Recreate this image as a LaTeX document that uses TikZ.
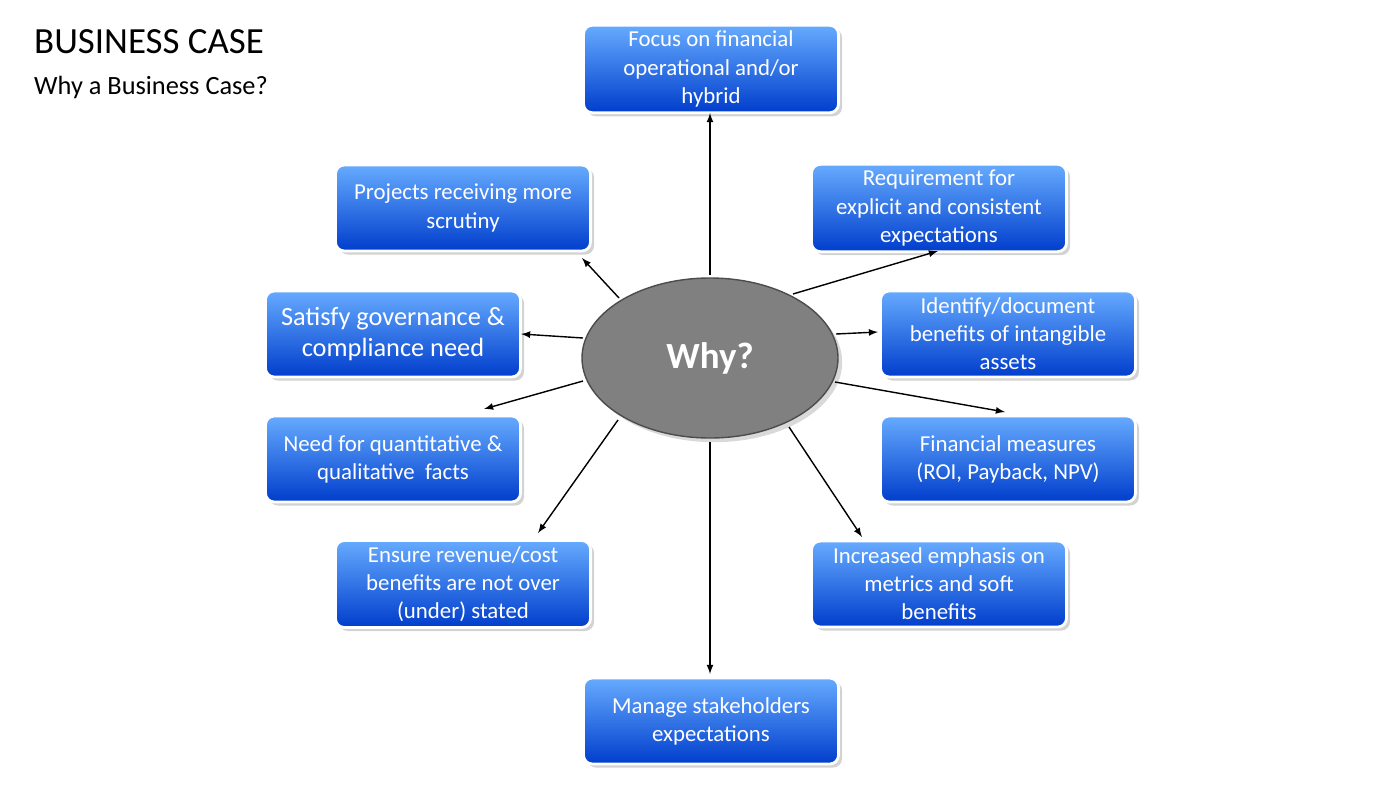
\documentclass[tikz,border=0pt]{standalone}
\usepackage{fontspec}
\setmainfont{Carlito}
\usetikzlibrary{shadows,shapes.geometric}
\begin{document}
\begin{tikzpicture}[x=0.02cm,y=-0.02cm,
  bx/.style={draw=white,line width=1.6pt,rounded corners=5pt,top color=cyan!45!blue!60!white,bottom color=blue!70!cyan!80!black,
    minimum width=255*0.02cm,minimum height=86*0.02cm,text=white,align=center,font=\fontsize{13}{16}\selectfont,
    drop shadow={shadow xshift=2pt,shadow yshift=-2pt,opacity=0.35}},
  ar/.style={-latex,line width=0.8pt}]
\useasboundingbox (0,0) rectangle (1400,788);
\node[anchor=west,font=\fontsize{21}{24}\selectfont] (t) at (28,42) {BUSINESS CASE};
\node[anchor=west,font=\fontsize{15}{18}\selectfont] (st) at (28,87) {Why a Business Case?};
\node[ellipse,draw=black!70,line width=0.8pt,fill=black!50,minimum width=256*0.02cm,minimum height=160*0.02cm,
  text=white,font=\bfseries\fontsize{21}{24}\selectfont,drop shadow={opacity=0.3}] (why) at (710,358) {Why?};
\node[bx] (b1) at (711,69) {Focus on financial\\operational and/or\\hybrid};
\node[bx] (b2) at (939,208) {Requirement for\\explicit and consistent\\expectations};
\node[bx] (b3) at (463,208) {Projects receiving more\\scrutiny};
\node[bx,font=\fontsize{15}{18}\selectfont] (b4) at (393,334) {Satisfy governance \&\\compliance need};
\node[bx] (b5) at (1008,334) {Identify/document\\benefits of intangible\\assets};
\node[bx] (b6) at (393,459) {Need for quantitative \&\\qualitative\ \ facts};
\node[bx] (b7) at (1008,459) {Financial measures\\(ROI, Payback, NPV)};
\node[bx] (b8) at (463,584) {Ensure revenue/cost\\benefits are not over\\(under) stated};
\node[bx] (b9) at (939,584) {Increased emphasis on\\metrics and soft\\benefits};
\node[bx] (b10) at (711,721) {Manage stakeholders\\expectations};
\coordinate (s1) at (710,275); \coordinate (e1) at (710,113);
\coordinate (s2) at (793,294); \coordinate (e2) at (938,251);
\coordinate (s3) at (619,298); \coordinate (e3) at (582,258);
\coordinate (s4) at (583,338); \coordinate (e4) at (521,334);
\coordinate (s5) at (836,334); \coordinate (e5) at (878,332);
\coordinate (s6) at (583,381); \coordinate (e6) at (484,409);
\coordinate (s7) at (835,382); \coordinate (e7) at (1005,412);
\coordinate (s8) at (618,420); \coordinate (e8) at (538,533);
\coordinate (s9) at (789,427); \coordinate (e9) at (862,537);
\coordinate (s10) at (710,442); \coordinate (e10) at (710,674);
\foreach \i in {1,...,10} \draw[ar] (s\i) -- (e\i);
\end{tikzpicture}
\end{document}
